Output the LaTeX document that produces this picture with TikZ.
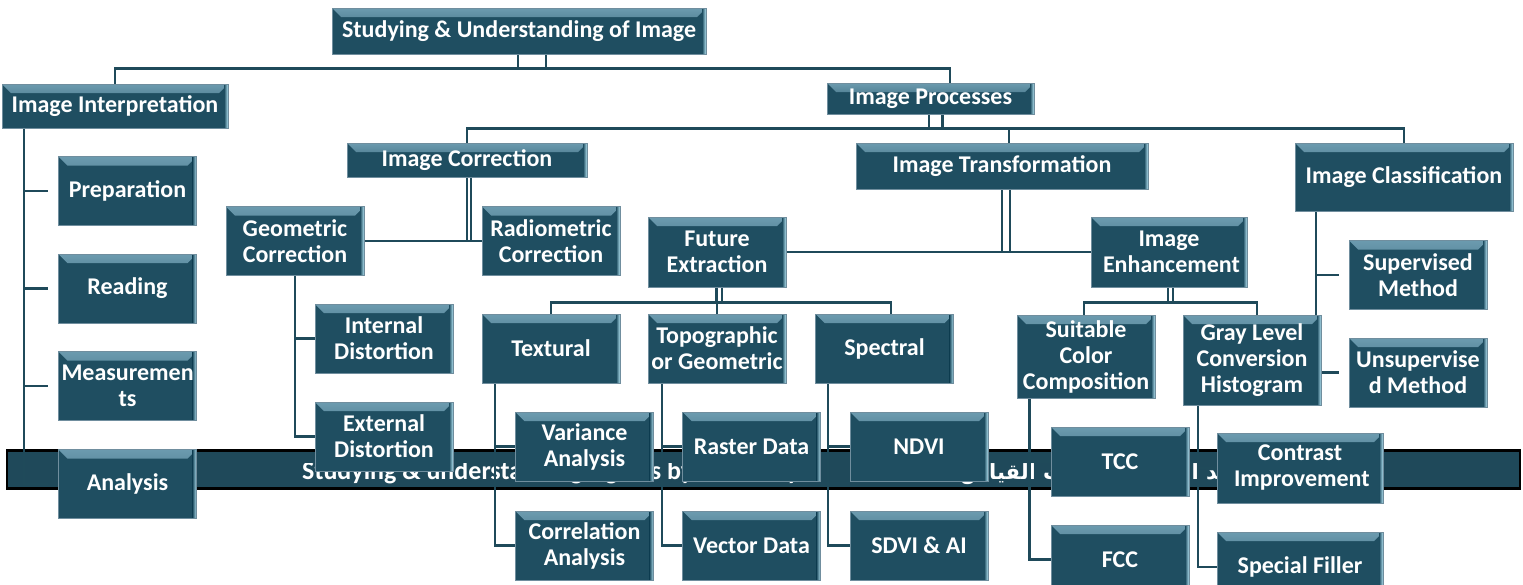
\documentclass[tikz,border=0pt]{standalone}
\usepackage{fontspec}
\usepackage{xcolor}
\usepackage{tikz}
\usetikzlibrary{backgrounds}
\newfontfamily\carlito{Carlito}
\newfontfamily\arabicfont[Script=Arabic]{DejaVu Sans}
\TeXXeTstate=1
\definecolor{boxfill}{RGB}{31,78,97}
\definecolor{boxedge}{RGB}{112,142,158}
\definecolor{bevel}{RGB}{108,155,175}
\definecolor{rim}{RGB}{178,226,242}
\definecolor{linkc}{RGB}{31,74,90}
\definecolor{bandc}{RGB}{31,73,90}

\begin{document}
\begin{tikzpicture}[x=1pt, y=-1pt,
  box/.style={draw=boxedge, line width=0.8pt, fill=boxfill, text=white, align=flush center, inner sep=0pt,
              font=\carlito\bfseries\fontsize{24}{26}\selectfont,
              path picture={
                \shade[top color=bevel, bottom color=boxfill]
                  (path picture bounding box.north west) -- (path picture bounding box.north east)
                  -- ([shift={(-9pt,-9pt)}]path picture bounding box.north east)
                  -- ([shift={(9pt,-9pt)}]path picture bounding box.north west) -- cycle;
                \shade[left color=boxfill, right color=rim]
                  ([xshift=-4pt]path picture bounding box.north east) rectangle (path picture bounding box.south east);
              }},
  leaf/.style={box, minimum width=138pt, minimum height=69pt, text width=132pt},
  link/.style={draw=linkc, line width=2.4pt},
  band/.style={draw=black, line width=2.5pt, fill=bandc, minimum width=1513pt, minimum height=38pt, inner sep=0pt},
  bandtext/.style={text=white, inner sep=0pt, font=\carlito\bfseries\fontsize{26}{28}\selectfont}
]
  \useasboundingbox (0,0) rectangle (1523,584);
  \clip (0,0) rectangle (1523,584);

  \node[box, minimum width=374pt, minimum height=46pt] (root) at (519,31) {Studying \& Understanding of Image};
  \node[box, minimum width=226pt, minimum height=44pt] (interp) at (115,106) {Image Interpretation};
  \node[box, minimum width=207pt, minimum height=31pt] (proc) at (930.5,98.5) {Image Processes};

  \node[box, minimum width=240pt, minimum height=34pt] (corr) at (467,160) {Image Correction};
  \node[box, minimum width=292pt, minimum height=46pt] (trans) at (1002,166) {Image Transformation};
  \node[box, minimum width=218pt, minimum height=68pt] (class) at (1404,177) {Image Classification};

  \node[leaf] (prep) at (127.5,191) {Preparation};
  \node[leaf] (read) at (127.5,288.5) {Reading};
  \node[leaf] (meas) at (127.5,386) {Measuremen\\ts};
  \node[leaf] (anal) at (127.5,484) {Analysis};

  \node[leaf] (geo) at (295,241) {Geometric\\Correction};
  \node[leaf] (radio) at (551,241) {Radiometric\\Correction};
  \node[leaf] (intd) at (384,338.5) {Internal\\Distortion};
  \node[leaf] (extd) at (384,436.5) {External\\Distortion};

  \node[leaf, minimum height=70pt] (feat) at (717,252) {Future\\Extraction};
  \node[leaf, minimum width=156pt, minimum height=70pt] (enh) at (1169,252) {Image\\Enhancement};

  \node[leaf] (text) at (551,348.5) {Textural};
  \node[leaf] (topo) at (717,348.5) {Topographic\\or Geometric};
  \node[leaf] (spec) at (884.5,348.5) {Spectral};
  \node[leaf] (var) at (584.5,446.5) {Variance\\Analysis};
  \node[leaf] (cor) at (584.5,545.5) {Correlation\\Analysis};
  \node[leaf] (ras) at (751.5,446.5) {Raster Data};
  \node[leaf] (vec) at (751.5,545.5) {Vector Data};
  \node[leaf] (ndvi) at (919,446.5) {NDVI};
  \node[leaf] (sdvi) at (919,545.5) {SDVI \& AI};

  \node[leaf, minimum height=83pt] (suit) at (1086,356.5) {Suitable\\Color\\Composition};
  \node[leaf, minimum height=90pt] (gray) at (1252,360) {Gray Level\\Conversion\\Histogram};
  \node[leaf] (tcc) at (1120,461.5) {TCC};
  \node[leaf] (fcc) at (1120,559.5) {FCC};
  \node[leaf, minimum width=166pt, minimum height=70pt] (contr) at (1300,468) {Contrast\\Improvement};
  \node[leaf, minimum width=166pt, minimum height=70pt] (filler) at (1300,567) {Special Filler};

  \node[leaf] (sup) at (1418,275) {Supervised\\Method};
  \node[leaf] (unsup) at (1418,372.5) {Unsupervise\\d Method};

  \begin{scope}[on background layer]
    \node[band] (band) at (763.5,469.5) {};
    \begin{scope}
      \clip (0,463) rectangle (1523,492);
      \node[bandtext, anchor=base west] (bandtxt) at (302,479) {Studying \& understanding signals by the analyst};
      \node[bandtext, anchor=base west] (bandar) at (960,479) {\arabicfont\fontsize{21}{24}\selectfont\beginR التحديد الدقيق لعمليات القياس\endR};
    \end{scope}

    \draw[link] ([xshift=27pt]root.south) -- ++(0,14) -| (interp.north);
    \draw[link] ([xshift=-1pt]root.south) -- ++(0,14) -| ([xshift=19.5pt]proc.north);
    \draw[link] ([xshift=12pt]proc.south) -- ++(0,14) -| (corr.north);
    \draw[link] ([xshift=-1.5pt]proc.south) -- ++(0,14) -| ([xshift=7pt]trans.north);
    \draw[link] ([xshift=-1.5pt]proc.south) -- ++(0,14) -| (class.north);
    \draw[link] ([xshift=4pt]corr.south) |- (geo.east);
    \draw[link] (corr.south) |- (radio.west);
    \draw[link] ([xshift=8pt]trans.south) |- (feat.east);
    \draw[link] (trans.south) |- (enh.west);
    \draw[link] ([xshift=5pt]feat.south) -- ++(0,15) -| (text.north);
    \draw[link] (feat.south) -- (topo.north);
    \draw[link] ([xshift=-1pt]feat.south) -- ++(0,15) -| ([xshift=6.5pt]spec.north);
    \draw[link] ([xshift=4pt]enh.south) -- ++(0,15) -| ([xshift=-2pt]suit.north);
    \draw[link] ([xshift=-1pt]enh.south) -- ++(0,15) -| ([xshift=5pt]gray.north);
    \draw[link] ([xshift=-88pt]class.south) |- ([xshift=-10pt]sup.west);
    \draw[link] ([xshift=-88pt]class.south) |- ([xshift=-10pt]unsup.west);
    \foreach \c in {prep,read,meas,anal}
      \draw[link] ([xshift=-91pt]interp.south) |- ([xshift=-10pt]\c.west);
    \foreach \c in {intd,extd}
      \draw[link] (geo.south) |- (\c.west);
    \foreach \c in {var,cor}
      \draw[link] ([xshift=-56pt]text.south) |- (\c.west);
    \foreach \c in {ras,vec}
      \draw[link] ([xshift=-55pt]topo.south) |- (\c.west);
    \foreach \c in {ndvi,sdvi}
      \draw[link] ([xshift=-56.5pt]spec.south) |- (\c.west);
    \foreach \c in {tcc,fcc}
      \draw[link] ([xshift=-56.5pt]suit.south) |- (\c.west);
    \foreach \c in {contr,filler}
      \draw[link] ([xshift=-54pt]gray.south) |- (\c.west);
  \end{scope}
\end{tikzpicture}
\end{document}
